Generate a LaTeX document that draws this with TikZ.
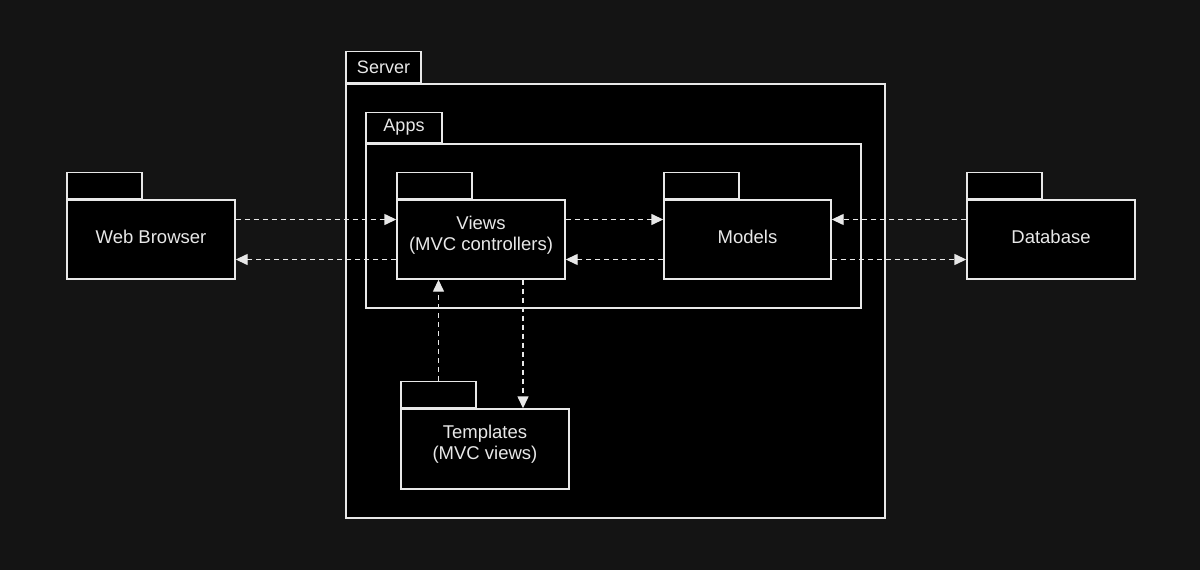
\documentclass[tikz,border=0pt]{standalone}
\usepackage{fontspec}
\setmainfont{Liberation Sans}
\usetikzlibrary{arrows.meta}
\definecolor{bg}{HTML}{141414}
\definecolor{fg}{HTML}{E8E8E8}
\begin{document}
\begin{tikzpicture}[x=1pt,y=-1pt,
  pkg/.style={draw=fg, fill=black, line width=1.4pt, inner sep=0pt, text=fg, align=center,
    font=\fontsize{18}{21}\selectfont},
  txt/.style={text=fg, align=center, inner sep=0pt, font=\fontsize{18.5}{21}\selectfont},
  pkgtab/.style={pkg, anchor=south west, minimum width=75pt, minimum height=26pt},
  dep/.style={draw=fg, line width=1.4pt, dash pattern=on 5pt off 4pt,
    -{Triangle[length=12pt,width=11pt,fill=fg]}}
]
\fill[bg] (0,0) rectangle (1200,570);
\useasboundingbox (0,0) rectangle (1200,570);

% Server frame
\node[pkg, minimum width=539pt, minimum height=434pt] (server) at (615.5,301) {};
\node[pkgtab, minimum height=31pt] (servertab) at (server.north west) {Server};
% Apps frame
\node[pkg, minimum width=495pt, minimum height=164pt] (apps) at (613.5,226) {};
\node[pkgtab, minimum width=76pt, minimum height=30pt] (appstab) at (apps.north west) {Apps};

% Packages
\node[pkg, minimum width=168pt, minimum height=79pt] (web) at (151,239.5) {};
\node[pkgtab] (webtab) at (web.north west) {};
\node[txt] (webtext) at ([yshift=3pt]web.center) {Web Browser};
\node[pkg, minimum width=168pt, minimum height=79pt] (views) at (481,239.5) {};
\node[pkgtab] (viewstab) at (views.north west) {};
\node[txt] (viewstext) at ([yshift=4pt]views.center) {Views\\(MVC controllers)};
\node[pkg, minimum width=167pt, minimum height=79pt] (models) at (747.5,239.5) {};
\node[pkgtab] (modelstab) at (models.north west) {};
\node[txt] (modelstext) at ([yshift=3pt]models.center) {Models};
\node[pkg, minimum width=168pt, minimum height=79pt] (db) at (1051,239.5) {};
\node[pkgtab] (dbtab) at (db.north west) {};
\node[txt] (dbtext) at ([yshift=3pt]db.center) {Database};
\node[pkg, minimum width=168pt, minimum height=80pt] (tpl) at (485,449) {};
\node[pkgtab] (tpltab) at (tpl.north west) {};
\node[txt] (tpltext) at ([yshift=5pt]tpl.center) {Templates\\(MVC views)};

% Dependencies
\draw[dep] ([yshift=20pt]web.east) -- ([yshift=20pt]views.west);
\draw[dep] ([yshift=-20pt]views.west) -- ([yshift=-20pt]web.east);
\draw[dep] ([yshift=20pt]views.east) -- ([yshift=20pt]models.west);
\draw[dep] ([yshift=-20pt]models.west) -- ([yshift=-20pt]views.east);
\draw[dep] ([yshift=20pt]db.west) -- ([yshift=20pt]models.east);
\draw[dep] ([yshift=-20pt]models.east) -- ([yshift=-20pt]db.west);
\draw[dep] (tpltab.north) -- (tpltab.north |- views.south);
\draw[dep] ([xshift=42pt]views.south) -- ([xshift=42pt]views.south |- tpl.north);
\end{tikzpicture}
\end{document}
